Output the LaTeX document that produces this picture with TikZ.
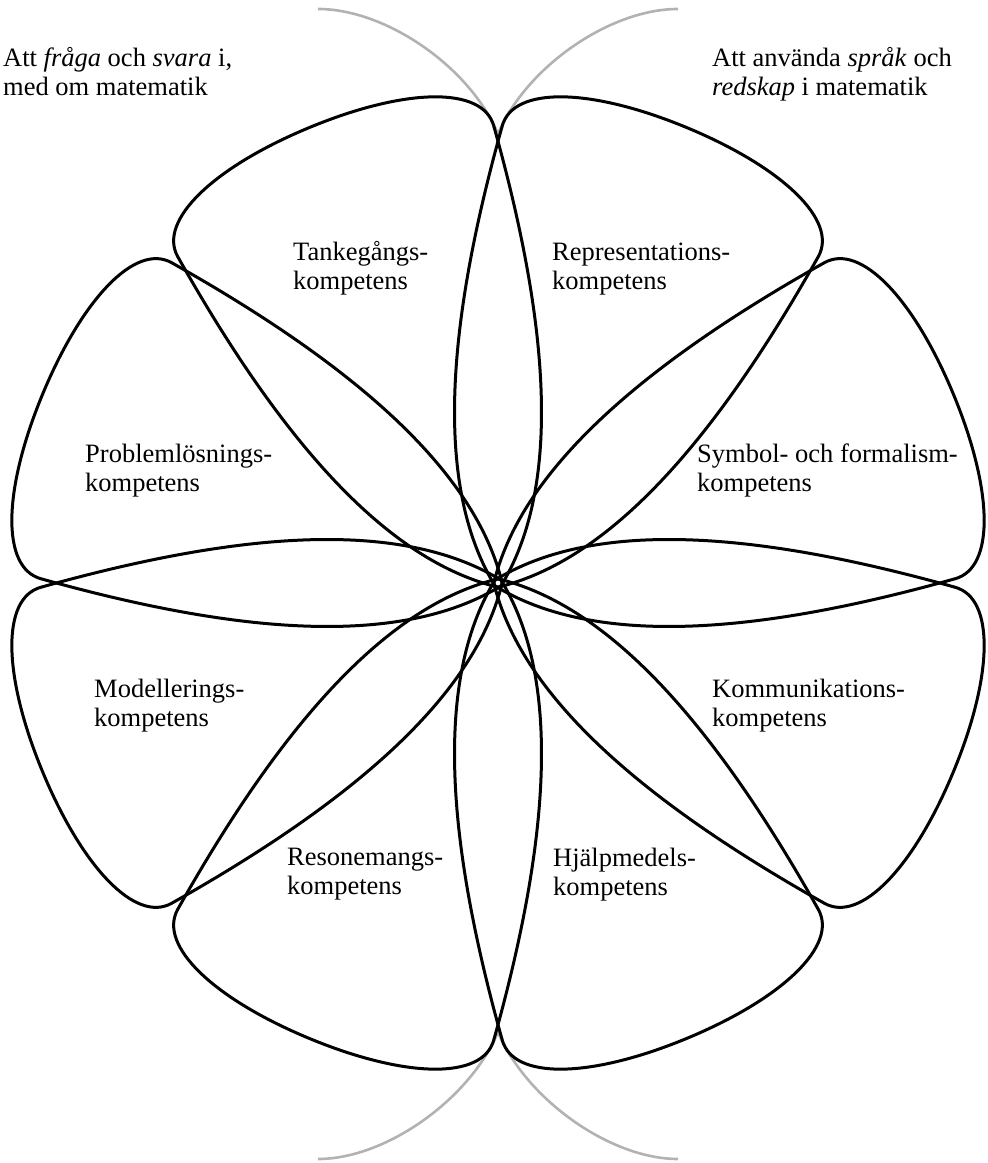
\documentclass[tikz,border=0pt]{standalone}
\usepackage{fontspec}
\setmainfont{Liberation Serif}
\begin{document}
\begin{tikzpicture}[x=1pt,y=1pt,
  petal/.style={draw=black, line width=3pt, line join=round},
  grayarc/.style={draw=black!30, line width=2.6pt},
  lbl/.style={font=\fontsize{26.5}{29}\selectfont, align=left, anchor=north west, inner sep=0pt}]
\useasboundingbox (0,0) rectangle (988,1163);
\coordinate (C) at (498,580);
% grey arcs
\begin{scope}[shift={(C)}]
  \coordinate (pt) at (0,449);
  \coordinate (pb) at (0,-449);
  \coordinate (gtl) at (-180,574);
  \coordinate (gtr) at (180,574);
  \coordinate (gbl) at (-180,-576);
  \coordinate (gbr) at (180,-576);
  \draw[grayarc] (pt) .. controls (-28,516) and (-112,574) .. (gtl);
  \draw[grayarc] (pt) .. controls (28,516) and (112,574) .. (gtr);
  \draw[grayarc] (pb) .. controls (-28,-516) and (-112,-576) .. (gbl);
  \draw[grayarc] (pb) .. controls (28,-516) and (112,-576) .. (gbr);
\end{scope}
% petals
\foreach \a in {22.5,67.5,112.5,157.5,202.5,247.5,292.5,337.5}{
  \draw[petal, shift={(C)}, rotate=\a]
    (-5,0) .. controls (65,98) and (224,147) .. (424,171)
    .. controls (465,176) and (493,104) .. (493,0)
    .. controls (493,-104) and (465,-176) .. (424,-171)
    .. controls (224,-147) and (65,-98) .. (-5,0) -- cycle;
}
% labels
\node[lbl] (tank) at (293,921.5) {Tankegångs-\\kompetens};
\node[lbl] (repr) at (552,920) {Representations-\\kompetens};
\node[lbl] (prob) at (85,719) {Problemlösnings-\\kompetens};
\node[lbl] (symb) at (697,719) {Symbol- och formalism-\\kompetens};
\node[lbl] (mode) at (94,484.5) {Modellerings-\\kompetens};
\node[lbl] (komm) at (712,484.5) {Kommunikations-\\kompetens};
\node[lbl] (reso) at (287,315.5) {Resonemangs-\\kompetens};
\node[lbl] (hjal) at (553,315.5) {Hjälpmedels-\\kompetens};
\node[lbl] (tl) at (3,1115.5) {Att \textit{fråga} och \textit{svara} i,\\med om matematik};
\node[lbl] (tr) at (712,1115.5) {Att använda \textit{språk} och\\\textit{redskap} i matematik};
\end{tikzpicture}
\end{document}
